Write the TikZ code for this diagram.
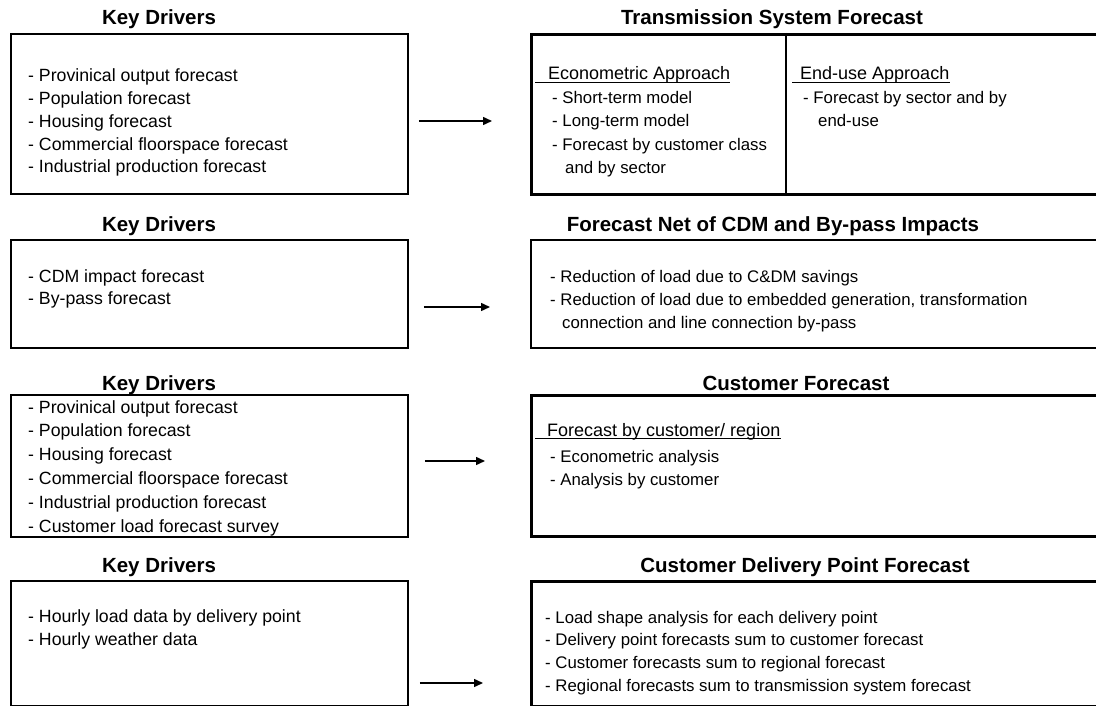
\documentclass[tikz,border=0pt]{standalone}
\usepackage{fontspec}
\setmainfont{Liberation Sans}
\usetikzlibrary{arrows.meta}
\begin{document}
\begin{tikzpicture}[x=1pt,y=-1pt,
  title/.style={font=\fontsize{20.5}{24}\selectfont\bfseries, anchor=base, inner sep=0},
  body/.style={font=\fontsize{16.8}{20}\selectfont, anchor=base west, inner sep=0},
  drvtext/.style={font=\fontsize{17.7}{21}\selectfont, anchor=base west, inner sep=0},
  head/.style={font=\fontsize{18}{21}\selectfont, anchor=base west, inner sep=0},
  drvbox/.style={draw, line width=1.8pt, anchor=north west, minimum width=397pt, inner sep=0},
  fcbox/.style={draw, line width=#1, anchor=north west, minimum width=572pt, inner sep=0},
  arr/.style={line width=1.5pt, -{Triangle[length=9pt,width=8pt]}},
  uline/.style={line width=1.2pt}
]
\useasboundingbox (0,0) rectangle (1096,706);
\clip (0,0) rectangle (1096,706);
\fill[white] (0,0) rectangle (1096,706);

% ---- row 1: transmission system forecast ----
\node[title] (kdt1) at (159,25) {Key Drivers};
\node[drvbox, minimum height=160pt] (kd1) at (10,33) {};
\foreach \t [count=\i from 0] in {{- Provinical output forecast},{- Population forecast},
  {- Housing forecast},{- Commercial floorspace forecast},{- Industrial production forecast}}
  \node[drvtext] (kd1-\i) at (28,82+22.7*\i) {\t};

\node[title] (tsft) at (772,25) {Transmission System Forecast};
\node[fcbox=3pt, minimum height=160pt] (tsf) at (530,33) {};
\draw[line width=1.5pt] (786,33) -- (786,193);
\node[head] (eco) at (548,80) {Econometric Approach};
\draw[uline] (535,82.5) -- (eco.base east |- 0,82.5);
\node[body] (eco-0) at (552,103.5) {- Short-term model};
\node[body] (eco-1) at (552,127) {- Long-term model};
\node[body] (eco-2) at (552,150.5) {- Forecast by customer class};
\node[body] (eco-3) at (565,174) {and by sector};
\node[head] (enu) at (800,80) {End-use Approach};
\draw[uline] (792,82.5) -- (enu.base east |- 0,82.5);
\node[body] (enu-0) at (803,103.5) {- Forecast by sector and by};
\node[body] (enu-1) at (818,127) {end-use};

\draw[arr, shorten <=10pt, shorten >=38pt] (kd1.east |- 0,121) -- (tsf.west |- 0,121);

% ---- row 2: net of CDM and by-pass ----
\node[title] (kdt2) at (159,232) {Key Drivers};
\node[drvbox, minimum height=108pt] (kd2) at (10,239) {};
\node[drvtext] (kd2-0) at (28,282) {- CDM impact forecast};
\node[drvtext] (kd2-1) at (28,304.5) {- By-pass forecast};

\node[title] (nett) at (773,232) {Forecast Net of CDM and By-pass Impacts};
\node[fcbox=2.2pt, minimum height=108pt] (net) at (530,239) {};
\node[body] (net-0) at (550,282) {- Reduction of load due to C\&DM savings};
\node[body] (net-1) at (550,305) {- Reduction of load due to embedded generation, transformation};
\node[body] (net-2) at (562,328) {connection and line connection by-pass};

\draw[arr, shorten <=15pt, shorten >=40pt] (kd2.east |- 0,307) -- (net.west |- 0,307);

% ---- row 3: customer forecast ----
\node[title] (kdt3) at (159,390) {Key Drivers};
\node[drvbox, minimum height=142pt] (kd3) at (10,394) {};
\foreach \t [count=\i from 0] in {{- Provinical output forecast},{- Population forecast},
  {- Housing forecast},{- Commercial floorspace forecast},{- Industrial production forecast},
  {- Customer load forecast survey}}
  \node[drvtext] (kd3-\i) at (28,413+23.8*\i) {\t};

\node[title] (cft) at (796,390) {Customer Forecast};
\node[fcbox=3.2pt, minimum height=141pt] (cf) at (530,394) {};
\node[head] (cfh) at (547,436) {Forecast by customer/ region};
\draw[uline] (535,438.5) -- (cfh.base east |- 0,438.5);
\node[body] (cf-0) at (550,462) {- Econometric analysis};
\node[body] (cf-1) at (550,485) {- Analysis by customer};

\draw[arr, shorten <=16pt, shorten >=45pt] (kd3.east |- 0,461) -- (cf.west |- 0,461);

% ---- row 4: customer delivery point forecast ----
\node[title] (kdt4) at (159,572) {Key Drivers};
\node[drvbox, minimum height=125pt] (kd4) at (10,580) {};
\node[drvtext] (kd4-0) at (28,622) {- Hourly load data by delivery point};
\node[drvtext] (kd4-1) at (28,645) {- Hourly weather data};

\node[title] (dpt) at (805,572) {Customer Delivery Point Forecast};
\node[fcbox=2.6pt, minimum height=125pt] (dp) at (530,580) {};
\foreach \t [count=\i from 0] in {{- Load shape analysis for each delivery point},
  {- Delivery point forecasts sum to customer forecast},
  {- Customer forecasts sum to regional forecast},
  {- Regional forecasts sum to transmission system forecast}}
  \node[body] (dp-\i) at (545,623+22.7*\i) {\t};

\draw[arr, shorten <=11pt, shorten >=47pt] (kd4.east |- 0,683) -- (dp.west |- 0,683);
\end{tikzpicture}
\end{document}
